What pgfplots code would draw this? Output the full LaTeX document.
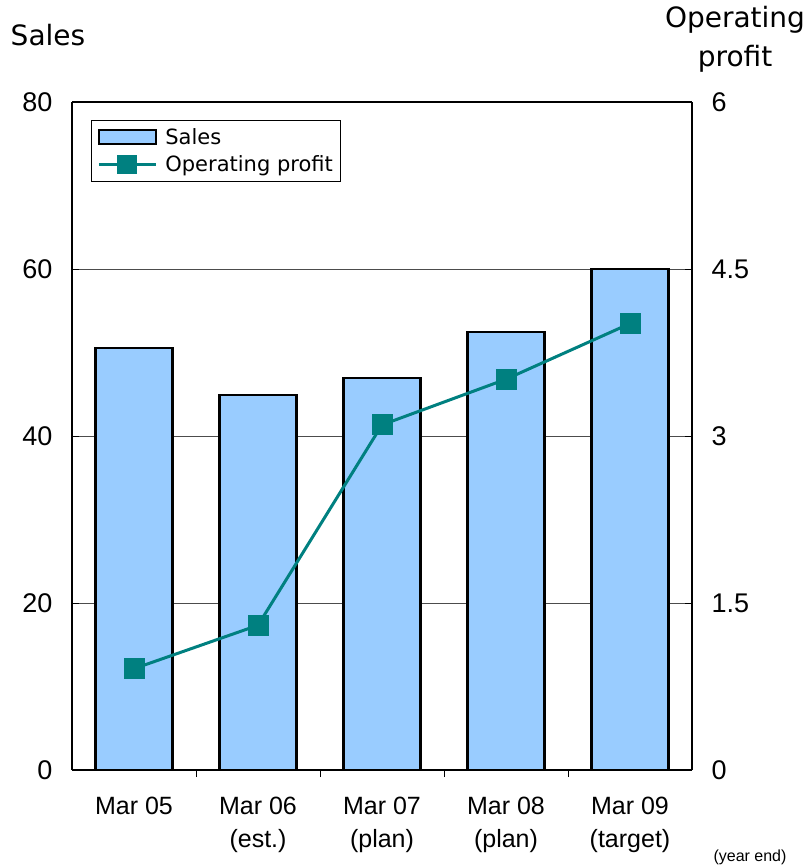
\documentclass[border=0pt]{standalone}
\usepackage{pgfplots}
\pgfplotsset{compat=1.18}
\usepackage{fontspec}
\setmainfont{Liberation Sans}
\newfontfamily\gothic{DejaVu Sans}
\definecolor{barblue}{HTML}{99CCFF}
\definecolor{tealline}{HTML}{008080}
\begin{document}
\begin{tikzpicture}
\useasboundingbox (-72pt,-97pt) rectangle (735pt,770pt);
\begin{axis}[
  at={(0pt,0pt)}, anchor=south west,
  scale only axis, width=620pt, height=668pt,
  xmin=-0.5, xmax=4.5, ymin=0, ymax=80,
  axis y line*=left, axis x line*=bottom,
  axis line style={line width=1.6pt, -},
  xtick={0,1,2,3,4},
  xticklabels={{Mar 05},{Mar 06\\(est.)},{Mar 07\\(plan)},{Mar 08\\(plan)},{Mar 09\\(target)}},
  xticklabel style={align=center, font=\fontsize{25}{33}\selectfont, yshift=-17pt},
  major x tick style={draw=none},
  minor xtick={0.5,1.5,2.5,3.5},
  minor tick length=7pt,
  minor x tick style={black, line width=0.8pt},
  ytick={0,20,40,60,80},
  yticklabel style={font=\fontsize{27}{32}\selectfont, xshift=-16pt},
  tick align=inside, major tick length=7pt,
  major y tick style={black, line width=0.8pt},
  ymajorgrids, grid style={gray!60!black, line width=0.9pt},
  /pgf/number format/assume math mode=true,
  ybar, bar width=0.62,
]
\addplot[fill=barblue, draw=black, line width=2.2pt] coordinates {(0,50.5) (1,44.9) (2,46.9) (3,52.5) (4,60)};
\end{axis}
\begin{axis}[
  at={(0pt,0pt)}, anchor=south west,
  scale only axis, width=620pt, height=668pt,
  xmin=-0.5, xmax=4.5, ymin=0, ymax=6,
  axis y line*=right, axis x line*=top,
  axis line style={line width=1.6pt, -},
  xtick=\empty,
  ytick={0,1.5,3,4.5,6},
  yticklabel style={font=\fontsize{27}{32}\selectfont, xshift=16pt},
  tick align=inside, major tick length=7pt,
  major y tick style={black, line width=0.8pt},
  /pgf/number format/assume math mode=true,
  legend style={at={(0.0306,0.973)}, anchor=north west, draw=black, line width=0.8pt,
    font=\gothic\fontsize{21}{24}\selectfont, inner xsep=6pt, inner ysep=6pt, row sep=6pt,
    /tikz/every odd column/.style={column sep=6pt}},
  legend cell align=left,
]
\addlegendimage{legend image code/.code={\draw[fill=barblue,draw=black,line width=1.4pt] (0pt,-7pt) rectangle (57pt,7pt);}}
\addlegendentry{Sales}
\addplot[tealline, line width=3pt, mark=square*, mark size=10pt, mark options={solid, fill=tealline, line width=0pt},
  legend image code/.code={\draw[tealline, line width=3pt] (0pt,0pt) -- (57pt,0pt); \fill[tealline] (20pt,-8pt) rectangle (37pt,8pt);}]
  coordinates {(0,0.91) (1,1.30) (2,3.10) (3,3.51) (4,4.01)};
\addlegendentry{Operating profit}
\end{axis}
\node[font=\gothic\fontsize{28}{36}\selectfont] at (-24pt,735pt) {Sales};
\node[font=\gothic\fontsize{28}{39}\selectfont, align=center] at (663pt,731pt) {Operating\\profit};
\node[font=\fontsize{16}{20}\selectfont] at (678pt,-87pt) {(year end)};
\end{tikzpicture}
\end{document}
